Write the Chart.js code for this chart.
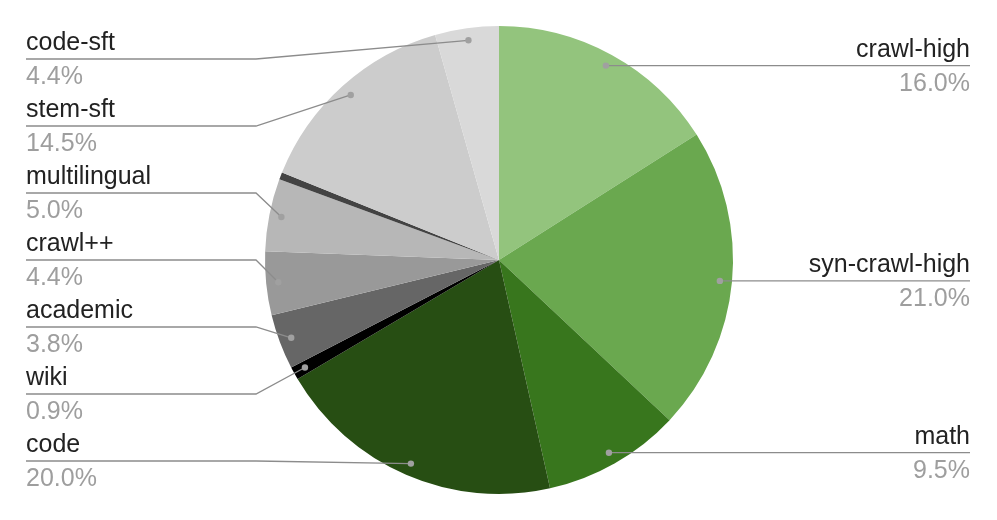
<!DOCTYPE html>
<html><head><meta charset="utf-8">
<script src="https://cdn.jsdelivr.net/npm/chart.js@4/dist/chart.umd.min.js"></script>
<style>html,body{margin:0;padding:0;background:#fff}#wrap{width:997px;height:520px;position:relative}</style>
</head><body><div id="wrap"><canvas id="c"></canvas></div>
<script>
const categories = ["crawl-high","syn-crawl-high","math","code","wiki","academic","crawl++","multilingual","other","stem-sft","code-sft"];
const shares = [16.0,21.0,9.5,20.0,0.9,3.8,4.4,5.0,0.5,14.5,4.4];
const shareLabels = ["16.0%","21.0%","9.5%","20.0%","0.9%","3.8%","4.4%","5.0%",null,"14.5%","4.4%"];
const sliceColors = ["#93c47d","#6aa84f","#38761d","#274e13","#000000","#666666","#999999","#b7b7b7","#434343","#cccccc","#d9d9d9"];

const FONT = '"Liberation Sans", Arial, sans-serif';
const outLabels = {
  id: 'outLabels',
  afterDatasetsDraw(chart, args, opts) {
    const ctx = chart.ctx;
    const meta = chart.getDatasetMeta(0);
    const left = [], right = [];
    meta.data.forEach((el, i) => {
      if (!shareLabels[i]) return;
      const p = el.getProps(['x','y','startAngle','endAngle','outerRadius'], true);
      const mid = (p.startAngle + p.endAngle) / 2;
      const r = p.outerRadius * opts.dotRatio;
      const dot = {x: p.x + Math.cos(mid) * r, y: p.y + Math.sin(mid) * r};
      (Math.cos(mid) > 0 ? right : left).push({i, dot, mid});
    });
    // left labels: order top to bottom, evenly spaced
    left.sort((a, b) => a.dot.y - b.dot.y);
    const n = left.length;
    left.forEach((l, k) => { l.ly = opts.leftTop + (opts.leftBottom - opts.leftTop) * (n > 1 ? k / (n - 1) : 0); });
    right.forEach(l => { l.ly = l.dot.y; });

    ctx.save();
    ctx.lineWidth = 1.3;
    ctx.strokeStyle = '#8c8c8c';
    left.forEach(l => {
      ctx.beginPath();
      ctx.moveTo(opts.leftX, l.ly);
      ctx.lineTo(opts.leftBreak, l.ly);
      ctx.lineTo(l.dot.x, l.dot.y);
      ctx.stroke();
    });
    right.forEach(l => {
      ctx.beginPath();
      ctx.moveTo(l.dot.x, l.ly);
      ctx.lineTo(opts.rightX, l.ly);
      ctx.stroke();
    });
    ctx.fillStyle = '#a0a0a0';
    [...left, ...right].forEach(l => {
      ctx.beginPath();
      ctx.arc(l.dot.x, l.dot.y, 3.2, 0, Math.PI * 2);
      ctx.fill();
    });
    ctx.font = opts.fontSize + 'px ' + FONT;
    ctx.textBaseline = 'alphabetic';
    const drawText = (l, x, align) => {
      ctx.textAlign = align;
      ctx.fillStyle = '#222222';
      ctx.fillText(categories[l.i], x, l.ly - 9);
      ctx.fillStyle = '#9e9e9e';
      ctx.fillText(shareLabels[l.i], x, l.ly + 25);
    };
    left.forEach(l => drawText(l, opts.leftX, 'left'));
    right.forEach(l => drawText(l, opts.rightX, 'right'));
    ctx.restore();
  }
};

new Chart(document.getElementById('c'), {
  type: 'pie',
  data: {
    labels: categories,
    datasets: [{ data: shares, backgroundColor: sliceColors, borderWidth: 0 }]
  },
  options: {
    responsive: true,
    maintainAspectRatio: false,
    animation: false,
    layout: { padding: { top: 26, bottom: 26, left: 1, right: 0 } },
    plugins: {
      legend: { display: false },
      tooltip: { enabled: false },
      outLabels: { dotRatio: 0.948, leftX: 26, leftBreak: 256, rightX: 970, leftTop: 59, leftBottom: 461, fontSize: 25 }
    }
  },
  plugins: [outLabels]
});
</script></body></html>
